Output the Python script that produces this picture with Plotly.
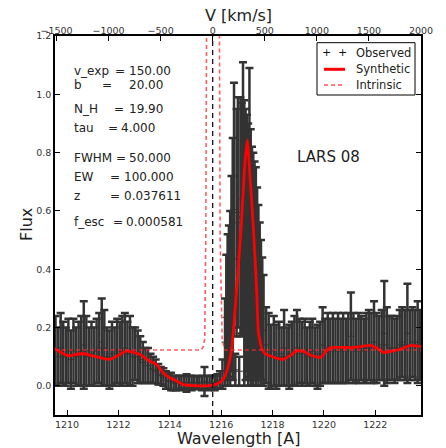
import plotly.graph_objects as go

LAM0 = 1215.67
C_KMS = 299792.458

# ---------------- observed spectrum ----------------
wl_blue = [1209.55, 1209.65, 1209.75, 1209.85, 1209.95,
           1210.05, 1210.15, 1210.25, 1210.35, 1210.45, 1210.55, 1210.65, 1210.75, 1210.85, 1210.95,
           1211.05, 1211.15, 1211.25, 1211.35, 1211.45, 1211.55, 1211.65, 1211.75, 1211.85, 1211.95,
           1212.05, 1212.15, 1212.25, 1212.35, 1212.45, 1212.55, 1212.65, 1212.75, 1212.85, 1212.95,
           1213.05, 1213.15, 1213.25, 1213.35, 1213.45, 1213.55, 1213.65, 1213.75, 1213.85, 1213.95,
           1214.05, 1214.15, 1214.25, 1214.35, 1214.45, 1214.55, 1214.65, 1214.75, 1214.85, 1214.95,
           1215.05, 1215.15, 1215.25, 1215.35, 1215.45, 1215.55, 1215.65, 1215.75, 1215.85, 1215.95,
           1216.05]
flux_blue = [0.12, 0.10, 0.13, 0.11, 0.10,
             0.12, 0.09, 0.12, 0.10, 0.11, 0.12, 0.14, 0.12, 0.10, 0.11,
             0.10, 0.12, 0.13, 0.15, 0.13, 0.10, 0.09, 0.11, 0.10, 0.12,
             0.11, 0.12, 0.13, 0.11, 0.12, 0.10, 0.11, 0.10, 0.09, 0.08,
             0.07, 0.07, 0.06, 0.055, 0.05, 0.04, 0.035, 0.03, 0.02, 0.015,
             0.015, 0.01, 0.01, 0.012, 0.01, 0.012, 0.01, 0.012, 0.01, 0.012,
             0.01, 0.012, 0.01, 0.015, 0.012, 0.01, 0.012, 0.01, 0.015, 0.02,
             0.04]
err_blue = [0.12, 0.10, 0.12, 0.11, 0.10,
            0.11, 0.10, 0.11, 0.10, 0.11, 0.12, 0.15, 0.12, 0.10, 0.11,
            0.10, 0.11, 0.12, 0.15, 0.13, 0.10, 0.10, 0.11, 0.10, 0.11,
            0.11, 0.12, 0.12, 0.11, 0.12, 0.10, 0.09, 0.09, 0.08, 0.07,
            0.06, 0.06, 0.05, 0.045, 0.04, 0.035, 0.03, 0.03, 0.03, 0.025,
            0.03, 0.025, 0.025, 0.022, 0.025, 0.022, 0.03, 0.022, 0.025, 0.022,
            0.022, 0.022, 0.025, 0.05, 0.022, 0.025, 0.022, 0.025, 0.025, 0.03,
            0.05]

wl_line = [1216.15, 1216.20, 1216.25, 1216.30, 1216.35, 1216.40, 1216.45, 1216.50,
           1216.55, 1216.60, 1216.65, 1216.70, 1216.75, 1216.80, 1216.85, 1216.90,
           1216.95, 1217.00, 1217.05, 1217.10, 1217.15, 1217.20, 1217.25, 1217.30,
           1217.35, 1217.40, 1217.45, 1217.50, 1217.55, 1217.60, 1217.65]
flux_line = [0.15, 0.235, 0.26, 0.29, 0.30, 0.385, 0.435, 0.605,
             0.055, 0.56, 0.595, 0.05, 0.58, 0.575, 0.64, 0.49,
             0.485, 0.49, 0.45, 0.56, 0.44, 0.42, 0.40, 0.40,
             0.375, 0.35, 0.31, 0.295, 0.25, 0.23, 0.19]
err_line = [0.15, 0.215, 0.26, 0.26, 0.30, 0.335, 0.415, 0.435,
            0.055, 0.39, 0.395, 0.05, 0.41, 0.395, 0.47, 0.49,
            0.465, 0.44, 0.45, 0.53, 0.44, 0.40, 0.40, 0.37,
            0.375, 0.33, 0.31, 0.265, 0.25, 0.21, 0.19]

wl_red = [1217.75, 1217.85, 1217.95, 1218.05, 1218.15, 1218.25, 1218.35, 1218.45, 1218.55, 1218.65,
          1218.75, 1218.85, 1218.95, 1219.05, 1219.15, 1219.25, 1219.35, 1219.45, 1219.55, 1219.65,
          1219.75, 1219.85, 1219.95, 1220.05, 1220.15, 1220.25, 1220.35, 1220.45, 1220.55, 1220.65,
          1220.75, 1220.85, 1220.95, 1221.05, 1221.15, 1221.25, 1221.35, 1221.45, 1221.55, 1221.65,
          1221.75, 1221.85, 1221.95, 1222.05, 1222.15, 1222.25, 1222.35, 1222.45, 1222.55, 1222.65,
          1222.75, 1222.85, 1222.95, 1223.05, 1223.15, 1223.25, 1223.35, 1223.45, 1223.55, 1223.65,
          1223.75]
flux_red = [0.14, 0.12, 0.10, 0.12, 0.10, 0.11, 0.10, 0.13, 0.10, 0.10,
            0.11, 0.12, 0.13, 0.12, 0.11, 0.12, 0.10, 0.11, 0.12, 0.10,
            0.10, 0.11, 0.14, 0.12, 0.13, 0.12, 0.13, 0.12, 0.13, 0.12,
            0.13, 0.12, 0.13, 0.17, 0.13, 0.12, 0.13, 0.13, 0.12, 0.13,
            0.14, 0.13, 0.15, 0.13, 0.13, 0.14, 0.18, 0.14, 0.13, 0.13,
            0.12, 0.13, 0.14, 0.15, 0.14, 0.18, 0.14, 0.15, 0.14, 0.15,
            0.14]
err_red = [0.13, 0.13, 0.11, 0.12, 0.11, 0.11, 0.10, 0.13, 0.10, 0.11,
           0.11, 0.12, 0.13, 0.11, 0.11, 0.11, 0.10, 0.11, 0.11, 0.10,
           0.11, 0.11, 0.13, 0.11, 0.12, 0.11, 0.12, 0.11, 0.12, 0.11,
           0.12, 0.11, 0.12, 0.15, 0.12, 0.11, 0.12, 0.11, 0.11, 0.12,
           0.12, 0.12, 0.14, 0.12, 0.11, 0.12, 0.18, 0.13, 0.11, 0.11,
           0.11, 0.11, 0.12, 0.12, 0.12, 0.17, 0.12, 0.12, 0.12, 0.14,
           0.12]

# ---------------- synthetic (model) spectrum ----------------
syn_wl = [1209.53, 1209.80, 1210.09, 1210.35, 1210.61, 1211.10, 1211.65, 1212.00, 1212.30, 1212.55,
          1212.82, 1213.05, 1213.21, 1213.48, 1213.73, 1214.00, 1214.26, 1214.52, 1214.90, 1215.30,
          1215.60, 1215.82, 1215.95, 1216.08, 1216.22, 1216.34, 1216.45, 1216.60, 1216.78, 1216.92,
          1217.02, 1217.12, 1217.25, 1217.38, 1217.45, 1217.59, 1217.75, 1217.90, 1218.15, 1218.42,
          1218.70, 1218.95, 1219.20, 1219.50, 1219.86, 1220.05, 1220.25, 1220.65, 1221.03, 1221.40,
          1221.81, 1222.05, 1222.33, 1222.60, 1222.85, 1223.10, 1223.37, 1223.60, 1223.78]
syn_flux = [0.128, 0.113, 0.103, 0.108, 0.111, 0.101, 0.091, 0.105, 0.120, 0.116,
            0.108, 0.095, 0.085, 0.074, 0.046, 0.028, 0.017, 0.004, 0.001, 0.000,
            0.002, 0.006, 0.012, 0.023, 0.050, 0.091, 0.160, 0.331, 0.547, 0.760,
            0.843, 0.720, 0.547, 0.331, 0.183, 0.125, 0.108, 0.103, 0.095, 0.091,
            0.105, 0.120, 0.118, 0.105, 0.097, 0.115, 0.131, 0.132, 0.131, 0.134,
            0.139, 0.130, 0.114, 0.118, 0.123, 0.130, 0.139, 0.137, 0.135]

# ---------------- intrinsic spectrum ----------------
int_wl = [1209.53, 1215.23, 1215.30, 1215.36, 1215.40, 1215.43, 1215.67,
          1215.92, 1215.96, 1216.04, 1216.10, 1216.14, 1223.78]
int_flux = [0.123, 0.123, 0.135, 0.16, 0.50, 1.20, 8.0,
            1.20, 0.50, 0.16, 0.135, 0.123, 0.123]

# ---------------- axes ----------------
wl_range = [1209.53, 1223.78]
y_range = [-0.1, 1.2001]
wl_ticks = [1210, 1212, 1214, 1216, 1218, 1220, 1222]
v_ticks = [-1500, -1000, -500, 0, 500, 1000, 1500, 2000]
v_labels = ["−1500", "−1000", "−500", "0", "500", "1000", "1500", "2000"]
y_ticks = [0.0, 0.2, 0.4, 0.6, 0.8, 1.0, 1.2]
y_labels = ["0.0", "0.2", "0.4", "0.6", "0.8", "1.0", "1.2"]
v_zero = [0.0, 0.0]

v_range = [(w / LAM0 - 1.0) * C_KMS for w in wl_range]

param_labels = ["v_exp", "b", "N_H", "tau", "FWHM", "EW", "z", "f_esc"]
param_values = ["150.00", "20.00", "19.90", "4.000", "50.000", "100.000", "0.037611", "0.000581"]

# layout helpers (pixel -> paper)
W, H = 446, 448
L, R, T, B = 55, 421, 36, 415
def px(x):
    return (x - L) / (R - L)
def py(y):
    return (B - y) / (B - T)

INK = "#333333"
FONT = "DejaVu Sans"

wl_all = wl_blue + wl_line + wl_red
flux_all = flux_blue + flux_line + flux_red
err_all = err_blue + err_line + err_red

fig = go.Figure()

fig.add_trace(go.Scatter(
    x=wl_all, y=flux_all, mode="markers",
    marker=dict(symbol="cross-thin", size=5, color=INK, line=dict(width=1, color=INK)),
    error_y=dict(type="data", array=err_all, color=INK, thickness=2.5, width=4),
    showlegend=False,
))
fig.add_trace(go.Scatter(
    x=syn_wl, y=syn_flux, mode="lines",
    line=dict(color="#ff0000", width=2.8, shape="spline", smoothing=0.5),
    showlegend=False,
))
fig.add_trace(go.Scatter(
    x=int_wl, y=int_flux, mode="lines",
    line=dict(color="rgba(255,40,40,0.75)", width=1.6, dash="4px,3px"),
    showlegend=False,
))
fig.add_trace(go.Scatter(
    x=v_zero, y=[y_range[0], y_range[1]], xaxis="x2", mode="lines",
    line=dict(color="black", width=1.2, dash="5px,4px"),
    showlegend=False,
))

tickfont = dict(family=FONT, size=9.5, color=INK)
fig.update_layout(
    width=W, height=H,
    margin=dict(l=L, r=W - R, t=T, b=H - B, pad=0),
    paper_bgcolor="white", plot_bgcolor="white",
    xaxis=dict(range=wl_range, tickvals=wl_ticks, ticks="inside", ticklen=5, tickwidth=1,
               tickcolor="black", showline=True, linecolor="black", linewidth=1.5,
               mirror=False, showgrid=False, zeroline=False, tickfont=tickfont),
    xaxis2=dict(range=v_range, overlaying="x", side="top", tickvals=v_ticks, ticktext=v_labels,
                ticks="inside", ticklen=5, tickwidth=1, tickcolor="black",
                showline=True, linecolor="black", linewidth=1.5, ticklabelstandoff=-4,
                showgrid=False, zeroline=False, tickfont=tickfont, anchor="y"),
    yaxis=dict(range=y_range, tickvals=y_ticks, ticktext=y_labels,
               ticks="inside", ticklen=5, tickwidth=1, tickcolor="black",
               showline=True, linecolor="black", linewidth=1.5, mirror="ticks",
               showgrid=False, zeroline=False, tickfont=tickfont),
)

ann = []
# axis titles
ann.append(dict(text="V [km/s]", x=0.5, y=py(15), xref="paper", yref="paper",
                showarrow=False, xanchor="center", yanchor="middle",
                font=dict(family=FONT, size=16, color="#222")))
ann.append(dict(text="Wavelength [A]", x=0.5, y=py(438.5), xref="paper", yref="paper",
                showarrow=False, xanchor="center", yanchor="middle",
                font=dict(family=FONT, size=16, color="#222")))
ann.append(dict(text="Flux", x=px(26), y=py(225), xref="paper", yref="paper",
                showarrow=False, xanchor="center", yanchor="middle", textangle=-90,
                font=dict(family=FONT, size=16, color="#222")))
ann.append(dict(text="LARS 08", x=px(328), y=py(157), xref="paper", yref="paper",
                showarrow=False, xanchor="center", yanchor="middle",
                font=dict(family=FONT, size=15, color="#222")))

# parameter text block
row_y = [70.7, 85, 109.3, 127.7, 158.3, 176.7, 195.7, 221.7]
eq_x = [112.5, 100, 112, 106, 114, 108, 108, 111]
val_x = [127, 127, 127, 119, 127, 122, 122, 124]
pfont = dict(family=FONT, size=12, color="#222")
for lab, val, yy, ex, vx in zip(param_labels, param_values, row_y, eq_x, val_x):
    ann.append(dict(text=lab, x=px(72), y=py(yy), xref="paper", yref="paper", showarrow=False,
                    xanchor="left", yanchor="middle", font=pfont))
    ann.append(dict(text="=", x=px(ex), y=py(yy), xref="paper", yref="paper", showarrow=False,
                    xanchor="left", yanchor="middle", font=pfont))
    ann.append(dict(text=val, x=px(vx), y=py(yy), xref="paper", yref="paper", showarrow=False,
                    xanchor="left", yanchor="middle", font=pfont))

# legend (manual)
lfont = dict(family=FONT, size=11.5, color="#222")
leg_rows = [52.7, 69.3, 85]
leg_names = ["Observed", "Synthetic", "Intrinsic"]
for name, yy in zip(leg_names, leg_rows):
    ann.append(dict(text=name, x=px(354), y=py(yy), xref="paper", yref="paper", showarrow=False,
                    xanchor="left", yanchor="middle", font=lfont))
for xx in [326.7, 342.3]:
    ann.append(dict(text="+", x=px(xx), y=py(leg_rows[0]), xref="paper", yref="paper", showarrow=False,
                    xanchor="center", yanchor="middle", font=dict(family=FONT, size=11, color="#111")))

fig.update_layout(annotations=ann)

shapes = [
    dict(type="rect", xref="paper", yref="paper", x0=px(317), x1=px(415), y0=py(95), y1=py(42.7),
         line=dict(color="black", width=1), fillcolor="white", layer="above"),
    dict(type="line", xref="paper", yref="paper", x0=px(324), x1=px(345), y0=py(leg_rows[1]), y1=py(leg_rows[1]),
         line=dict(color="#ff0000", width=3), layer="above"),
    dict(type="line", xref="paper", yref="paper", x0=px(324), x1=px(345), y0=py(leg_rows[2]), y1=py(leg_rows[2]),
         line=dict(color="rgba(255,40,40,0.8)", width=1.6, dash="4px,3px"), layer="above"),
]
fig.update_layout(shapes=shapes)

fig.write_html("out.html", config={"displayModeBar": False},
               post_script="document.body.style.margin='0px';")
